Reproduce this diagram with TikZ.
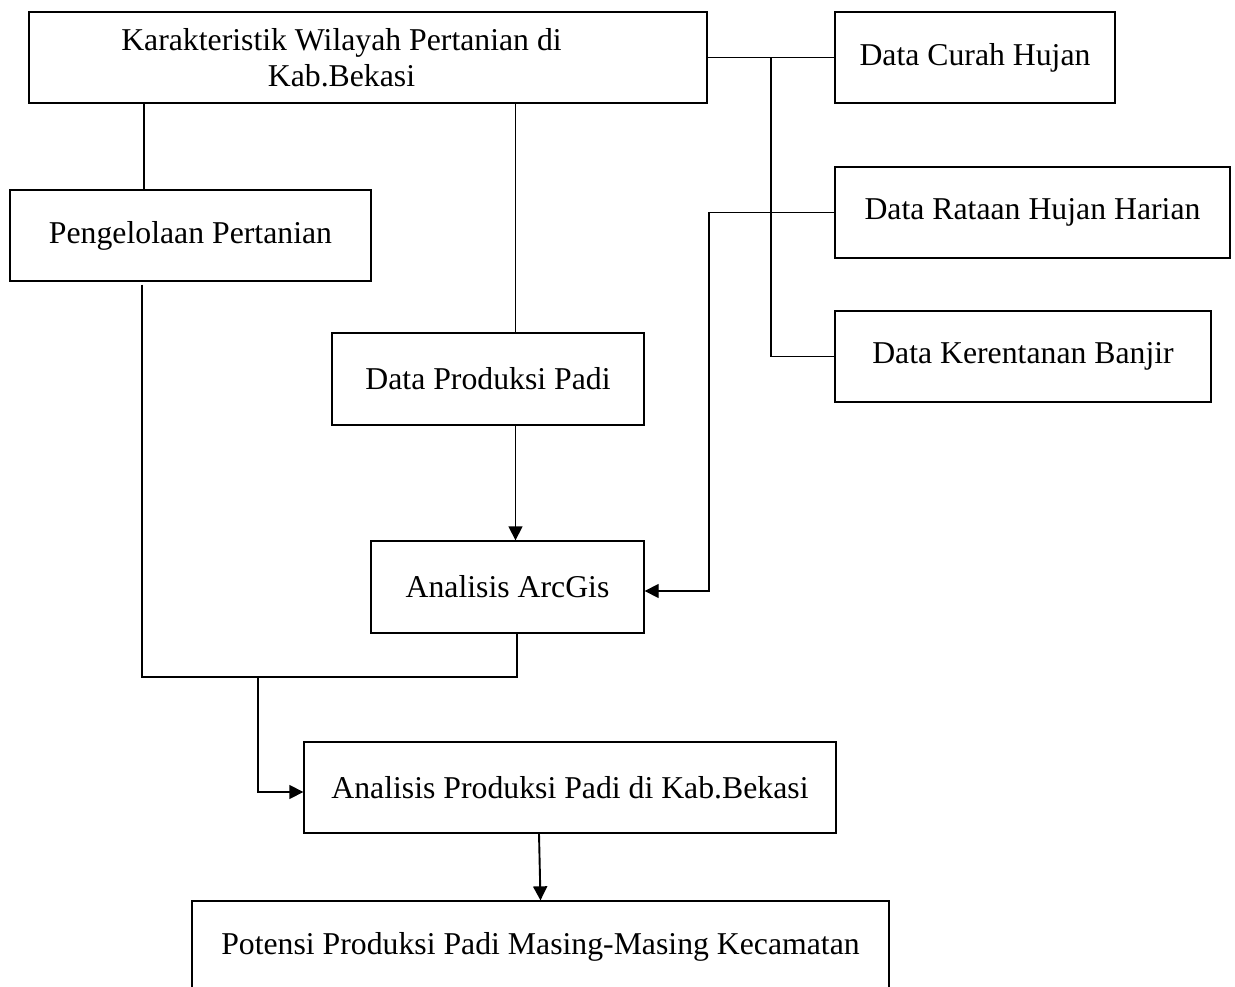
\documentclass[tikz,border=0pt]{standalone}
\usepackage{fontspec}
\setmainfont{Liberation Serif}
\usetikzlibrary{arrows.meta}

\tikzset{
  kotak/.style={draw, line width=1.3pt, minimum height=91, inner sep=0pt,
    font=\fontsize{31.75}{36}\selectfont},
  garis/.style={line width=1.3pt},
  panah/.style={line width=1.3pt, -{Triangle[length=14pt,width=14pt]}}
}

\begin{document}
\begin{tikzpicture}[x=1pt, y=-1pt]
        \useasboundingbox (0,0) rectangle (1235,987);

        \node[kotak, minimum width=678, align=center] (karakter) at (368,57.5) {Karakteristik Wilayah Pertanian di\hspace*{53pt}\\Kab.Bekasi\hspace*{53pt}};
        \node[kotak, minimum width=280] (curah) at (975,57.5) {Data Curah Hujan};
        \node[kotak, minimum width=395] (rataan) at (1032.5,212.5) {Data Rataan Hujan Harian};
        \node[kotak, minimum width=376] (kerentanan) at (1023,356.5) {Data Kerentanan Banjir};
        \node[kotak, minimum width=361] (pengelolaan) at (190.5,235.5) {Pengelolaan Pertanian};
        \node[kotak, minimum width=312, minimum height=92] (dataproduksi) at (488,379) {Data Produksi Padi};
        \node[kotak, minimum width=273, minimum height=92] (arcgis) at (507.5,587) {Analisis ArcGis};
        \node[kotak, minimum width=532] (analisis) at (570,787.5) {Analisis Produksi Padi di Kab.Bekasi};
        \node[kotak, minimum width=697] (potensi) at (540.5,946.5) {Potensi Produksi Padi Masing-Masing Kecamatan};

        \coordinate (cabang) at (771,57.5);
        \coordinate (kiri) at (144,0);
        \coordinate (tengah) at (515.5,0);
        \coordinate (belok) at (709,591);
        \coordinate (bawah) at (142,677);
        \coordinate (sambung) at (517,677);
        \coordinate (turun) at (258,677);

        \path[draw,garis] (karakter.east) -- (curah.west);
        \path[draw,garis] (cabang) |- (kerentanan.west);
        \path[draw,garis] (karakter.south -| kiri) -- (pengelolaan.north -| kiri);
        \path[draw,garis] (karakter.south -| tengah) -- (dataproduksi.north -| tengah);
        \path[draw,panah] (dataproduksi.south -| tengah) -- (arcgis.north -| tengah);
        \path[draw,panah] (rataan.west) -| (belok) -- (arcgis.east |- belok);
        \path[draw,garis] ([yshift=-3pt]pengelolaan.south -| bawah) -- (bawah) -- (sambung) -- (arcgis.south -| sambung);
        \path[draw,panah] (turun) |- ([yshift=-4.5pt]analisis.west);
        \path[draw,panah,line width=1.9pt] ([xshift=-31pt]analisis.south) -- (potensi.north);
    \end{tikzpicture}
\end{document}
